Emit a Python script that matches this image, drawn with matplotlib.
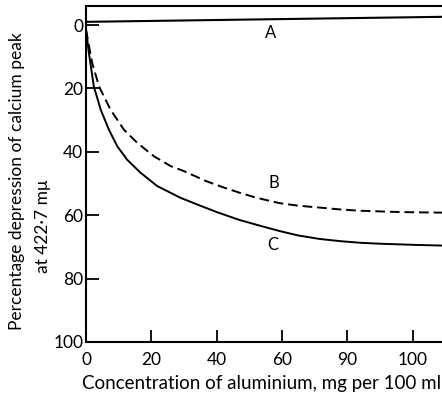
import matplotlib
matplotlib.use("Agg")
import matplotlib.pyplot as plt

# curve A: nearly flat line just above zero
a_x = [0, 110]
a_y = [-1.0, -2.6]

# curve B (dashed)
b_x = [0, 1.9, 4, 7.5, 11.6, 15.7, 20.8, 25.9, 30, 36.9, 42, 47, 52.2, 59.3,
       65, 71.6, 78, 84, 90, 96, 102, 110]
b_y = [1.5, 12, 19.4, 26.7, 33, 37.2, 41.4, 44.5, 46.1, 49.3, 51.2, 52.9, 54.5,
       56.2, 57.0, 57.6, 58.2, 58.6, 58.8, 59.0, 59.1, 59.2]

# curve C (solid)
c_x = [0, 0.9, 2.4, 4.5, 7.0, 9.6, 12.6, 16.7, 21.8, 28.9, 35, 40, 47, 53.2,
       59.3, 65, 71.6, 78, 84, 90, 96, 102, 110]
c_y = [1.5, 8.9, 19.4, 26.7, 33, 38.3, 42.5, 46.6, 50.8, 54.5, 57.0, 59.0, 61.5,
       63.3, 65.0, 66.4, 67.5, 68.2, 68.7, 69.0, 69.2, 69.4, 69.6]

x_ticks = [0, 20, 40, 60, 80, 100]
x_tick_labels = ["0", "20", "40", "60", "90", "100"]
y_ticks = [0, 20, 40, 60, 80, 100]

plt.rcParams["font.family"] = ["Lato", "DejaVu Sans"]

fig = plt.figure(figsize=(4.42, 3.96), dpi=100)
ax = fig.add_axes([86 / 442, 54 / 396, 1 - 86 / 442, 336 / 396])

ax.plot(a_x, a_y, color="black", lw=1.5)
ax.plot(b_x, b_y, color="black", lw=1.4, dashes=(5, 2.5))
ax.plot(c_x, c_y, color="black", lw=1.4)

ax.text(56.6, 2.5, "A", fontsize=12, ha="center", va="center")
ax.text(57.5, 49.7, "B", fontsize=12, ha="center", va="center")
ax.text(57.2, 69.5, "C", fontsize=12, ha="center", va="center")

ax.set_xlim(0, 109)
ax.set_ylim(100, -6)
ax.set_xticks(x_ticks)
ax.set_xticklabels(x_tick_labels)
ax.set_yticks(y_ticks)
ax.tick_params(direction="in", length=9, width=1.3, labelsize=12.5)
ax.tick_params(axis="x", pad=7)
ax.tick_params(axis="y", pad=2)
for side in ["left", "bottom", "top"]:
    ax.spines[side].set_linewidth(1.5)
ax.spines["right"].set_visible(False)

# axis titles placed by hand to match the original layout
fig.text(262 / 442, 1 - 384 / 396, "Concentration of aluminium, mg per 100 ml",
         fontsize=13.5, ha="center", va="center")
fig.text(17 / 442, 1 - 181 / 396, "Percentage depression of calcium peak",
         fontsize=12.5, rotation=90, ha="center", va="center")
fig.text(43 / 442, 1 - 226 / 396, "at 422·7 mμ",
         fontsize=12.5, rotation=90, ha="center", va="center")

fig.savefig("out.png", dpi=100)
